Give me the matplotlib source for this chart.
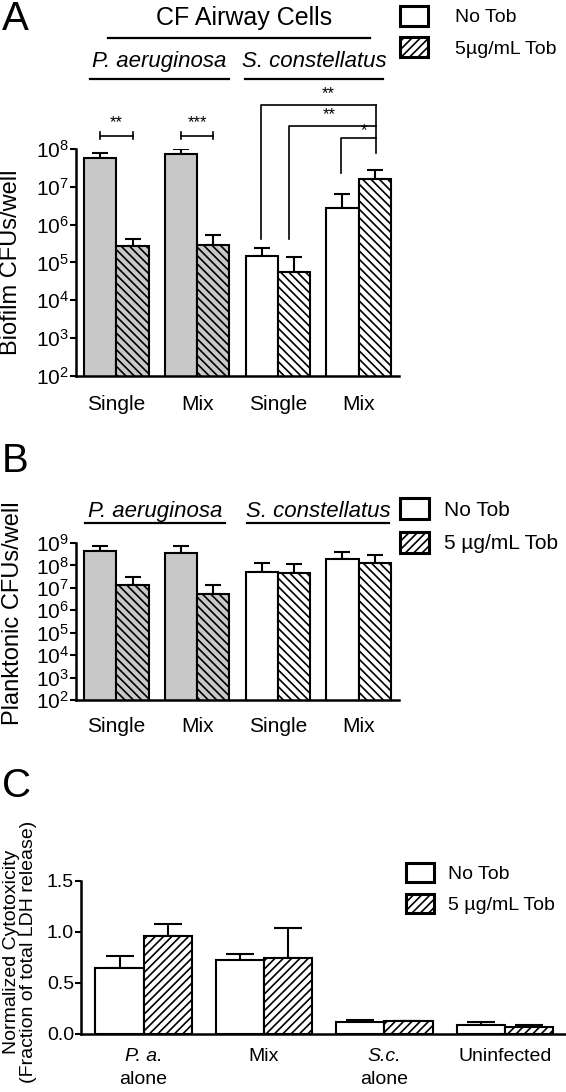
import matplotlib
matplotlib.use("Agg")
import numpy as np
import matplotlib.pyplot as plt
from matplotlib.patches import Patch

plt.rcParams.update({
    "font.family": "Liberation Sans",
    "mathtext.fontset": "custom",
    "mathtext.rm": "Liberation Sans",
    "mathtext.it": "Liberation Sans:italic",
    "hatch.linewidth": 1.2,
    "hatch.color": "black",
})

W, H = 566, 1092

# ---- data ----
groups_ab = ["Single", "Mix", "Single", "Mix"]
faces_ab = ["#c8c8c8", "#c8c8c8", "white", "white"]

biofilm_notob = [5.9e7, 7.5e7, 1.45e5, 2.7e6]
biofilm_notob_err = [2.1e7, 2.3e7, 1.0e5, 3.6e6]
biofilm_tob = [2.7e5, 2.9e5, 5.6e4, 1.6e7]
biofilm_tob_err = [1.5e5, 2.4e5, 8.6e4, 1.1e7]

plank_notob = [4.6e8, 3.7e8, 5.2e7, 1.85e8]
plank_notob_err = [3.1e8, 3.5e8, 7.8e7, 2.25e8]
plank_tob = [1.3e7, 5.3e6, 4.5e7, 1.3e8]
plank_tob_err = [1.8e7, 7.5e6, 7.5e7, 1.6e8]

# category labels for C: (first line, italic?, second line)
groups_c = [("P. a.", True, "alone"), ("Mix", False, ""),
            ("S.c.", True, "alone"), ("Uninfected", False, "")]
cyto_notob = [0.644, 0.726, 0.120, 0.091]
cyto_notob_err = [0.116, 0.054, 0.017, 0.023]
cyto_tob = [0.963, 0.748, 0.124, 0.068]
cyto_tob_err = [0.111, 0.292, 0.0, 0.023]


def fx(x):
    return x / W


def fy(y):
    return 1 - y / H


def draw_bars(ax, notob, notob_err, tob, tob_err, faces, hatch, cap):
    x = np.arange(len(notob))
    w = 0.4
    ax.bar(x - w / 2, notob, w, color=faces, edgecolor="black", lw=1.5, zorder=2)
    ax.bar(x + w / 2, tob, w, color=faces, edgecolor="black", lw=1.5,
           hatch=hatch, zorder=2)
    for xs, v, e in [(x - w / 2, notob, notob_err), (x + w / 2, tob, tob_err)]:
        ax.errorbar(xs, v, yerr=[np.zeros(len(v)), e], fmt="none", ecolor="black",
                    elinewidth=1.5, capsize=cap, capthick=1.5, zorder=1)
    ax.set_xlim(-0.5, 3.5)


def style_axis(ax, xpad):
    for s in ["top", "right"]:
        ax.spines[s].set_visible(False)
    for s in ["left", "bottom"]:
        ax.spines[s].set_linewidth(1.8)
    ax.tick_params(axis="y", which="major", length=4, width=1.5, pad=1,
                   labelsize=15)
    ax.tick_params(axis="y", which="minor", length=0)
    ax.tick_params(axis="x", length=0, pad=xpad, labelsize=15)


def legend(x, y, labels, fs, hl, hh, sp, tp):
    handles = [Patch(facecolor="white", edgecolor="black", lw=2.2),
               Patch(facecolor="white", edgecolor="black", lw=2.2, hatch="////")]
    fig.legend(handles, labels, loc="upper left", bbox_to_anchor=(fx(x), fy(y)),
               bbox_transform=fig.transFigure, frameon=False, fontsize=fs,
               handlelength=hl, handleheight=hh, labelspacing=sp,
               handletextpad=tp, borderpad=0, borderaxespad=0)


def species_labels(y_text, y_line, spans):
    for name, (x0, x1) in zip(["P. aeruginosa", "S. constellatus"], spans):
        fig.text(fx((x0 + x1) / 2), fy(y_text), name, fontsize=16,
                 style="italic", ha="center", va="baseline")
        fig.add_artist(plt.Line2D([fx(x0), fx(x1)], [fy(y_line), fy(y_line)],
                                  color="black", lw=1.6))


fig = plt.figure(figsize=(W / 100, H / 100), dpi=100)

# ---- panel A ----
axA = fig.add_axes([fx(76), fy(375.7), 323 / W, 226.7 / H])
axA.set_yscale("log")
draw_bars(axA, biofilm_notob, biofilm_notob_err, biofilm_tob, biofilm_tob_err,
          faces_ab, "\\\\\\\\", 6)
axA.set_ylim(1e2, 1e8)
axA.set_yticks([10.0 ** k for k in range(2, 9)])
axA.set_xticks(range(4))
axA.set_xticklabels(groups_ab)
style_axis(axA, 14)

fig.text(fx(2), fy(30), "A", fontsize=29, va="baseline")
fig.text(fx(11), fy(262), "Biofilm CFUs/well", fontsize=17, rotation=90,
         ha="center", va="center")
fig.text(fx(244), fy(25), "CF Airway Cells", fontsize=18, ha="center",
         va="baseline")
fig.add_artist(plt.Line2D([fx(108), fx(370)], [fy(37.7), fy(37.7)],
                          color="black", lw=1.6))
species_labels(67, 79, [(90, 229), (245, 383)])
legend(400, 6, ["No Tob", "5µg/mL Tob"], 14, 1.44, 1.18, 0.57, 1.39)

# significance brackets (Pa)
kw = dict(color="black", lw=1.2, clip_on=False)
for c, stars in [(0, "**"), (1, "***")]:
    axA.plot([c - 0.2, c + 0.2], [10 ** 8.35] * 2, **kw)
    for e in (c - 0.2, c + 0.2):
        axA.plot([e, e], [10 ** 8.26, 10 ** 8.44], **kw)
    axA.text(c, 10 ** 8.7, stars, ha="center", va="center", fontsize=12)
# significance brackets (Sc)
for x0, top, bottom, stars, sx, sy in [
        (1.79, 9.166, 5.62, "**", 2.62, 9.47),
        (2.14, 8.617, 5.62, "**", 2.63, 8.92),
        (2.78, 8.29, 7.36, "*", 3.07, 8.49)]:
    axA.plot([x0, x0, 3.22], [10 ** bottom, 10 ** top, 10 ** top], **kw)
    axA.text(sx, 10 ** sy, stars, ha="center", va="center", fontsize=12)
axA.plot([3.22, 3.22], [10 ** 9.166, 10 ** 7.895], **kw)

# ---- panel B ----
axB = fig.add_axes([fx(76), fy(700), 323 / W, 157 / H])
axB.set_yscale("log")
draw_bars(axB, plank_notob, plank_notob_err, plank_tob, plank_tob_err,
          faces_ab, "\\\\\\\\", 6)
axB.set_ylim(1e2, 1e9)
axB.set_yticks([10.0 ** k for k in range(2, 10)])
axB.set_xticks(range(4))
axB.set_xticklabels(groups_ab)
style_axis(axB, 12)

fig.text(fx(2), fy(472), "B", fontsize=29, va="baseline")
fig.text(fx(13), fy(613), "Planktonic CFUs/well", fontsize=17, rotation=90,
         ha="center", va="center")
species_labels(517, 523, [(85, 225), (247, 389)])
legend(400, 498, ["No Tob", "5 µg/mL Tob"], 15, 1.4, 1.2, 0.58, 0.72)

# ---- panel C ----
axC = fig.add_axes([fx(81), fy(1034), 484 / W, 153.3 / H])
draw_bars(axC, cyto_notob, cyto_notob_err, cyto_tob, cyto_tob_err,
          "white", "////", 10)
axC.set_xlim(-0.52, 3.5)
axC.set_ylim(0, 1.5)
axC.set_yticks([0, 0.5, 1.0, 1.5])
axC.set_yticklabels(["0.0", "0.5", "1.0", "1.5"])
axC.set_xticks(range(4))
axC.set_xticklabels([])
style_axis(axC, 10)
axC.tick_params(axis="both", labelsize=14)
for i, (first, italic, second) in enumerate(groups_c):
    axC.annotate(first, xy=(i, 0), xycoords=("data", "axes fraction"),
                 xytext=(0, -10), textcoords="offset points", ha="center",
                 va="top", fontsize=14, style="italic" if italic else "normal")
    if second:
        axC.annotate(second, xy=(i, 0), xycoords=("data", "axes fraction"),
                     xytext=(0, -27), textcoords="offset points", ha="center",
                     va="top", fontsize=14)

fig.text(fx(2), fy(797), "C", fontsize=29, va="baseline")
fig.text(fx(20), fy(952), "Normalized Cytotoxicity\n(Fraction of total LDH release)",
         fontsize=14, rotation=90, ha="center", va="center", linespacing=1.05,
         multialignment="center")
legend(406, 863, ["No Tob", "5 µg/mL Tob"], 14, 1.44, 1.13, 0.57, 0.72)

fig.savefig("out.png", dpi=100)
